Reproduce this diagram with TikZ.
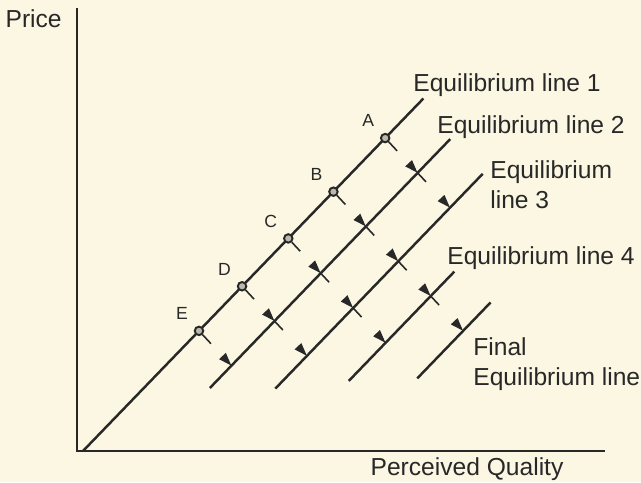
\documentclass[tikz,border=0pt]{standalone}
\usepackage{fontspec}
\setmainfont{Liberation Sans}
\usetikzlibrary{arrows.meta}
\definecolor{paper}{RGB}{251,247,226}
\definecolor{ink}{RGB}{40,40,40}

\begin{document}
\begin{tikzpicture}[
    axis/.style={line width=1.5pt, ink},
    eqline/.style={line width=1.4pt, ink},
    move/.style={line width=0.9pt, ink, dash pattern=on 7pt off 40pt,
        -{Triangle[length=7.5pt,width=5pt]}},
    pt/.style={circle, draw=ink, line width=1.1pt, fill=paper!70!ink, inner sep=0pt, minimum size=0.17cm},
    lbl/.style={text=ink, font=\fontsize{10}{11}\selectfont},
    txt/.style={text=ink, inner sep=0pt, font=\fontsize{14}{17}\selectfont}
]
    \fill[paper] (-1.54,-0.62) rectangle (11.28,9.02);
    \useasboundingbox (-1.54,-0.62) rectangle (11.28,9.02);

    % axes
    \draw[axis] (0,8.86) -- (0,0) -- (10.56,0);
    \node[txt, anchor=base east] at (-0.3,8.46) {Price};
    \node[txt, anchor=base] at (7.8,-0.48) {Perceived Quality};

    % equilibrium lines, drawn along the 46 degree direction
    \begin{scope}[shift={(0.12,0)}, rotate=46]
        \draw[eqline] (0,0) -- (9.8,0);
        \draw[eqline] (2.67,-0.95) -- (9.59,-0.95);
        \draw[eqline] (3.57,-1.9) -- (9.54,-1.9);
        \draw[eqline] (4.7,-2.85) -- (7.74,-2.85);
        \draw[eqline] (5.69,-3.8) -- (7.8,-3.8);

        \foreach \p/\s/\n in {A/8.7/2, B/7.21/4, C/5.91/3, D/4.58/2, E/3.34/1} {
            \node[pt, label={[lbl, label distance=1pt]135:\p}] (\p) at (\s,0) {};
            \foreach \k in {1,...,\n}
                \coordinate (\p\k) at (\s-0.05*\k, -0.95*\k);
        }
    \end{scope}

    % moves towards the final line
    \draw[move] (A) -- (A1);
    \draw[move] (A1) -- (A2);
    \draw[move] (B) -- (B1);
    \draw[move] (B1) -- (B2);
    \draw[move] (B2) -- (B3);
    \draw[move] (B3) -- (B4);
    \draw[move] (C) -- (C1);
    \draw[move] (C1) -- (C2);
    \draw[move] (C2) -- (C3);
    \draw[move] (D) -- (D1);
    \draw[move] (D1) -- (D2);
    \draw[move] (E) -- (E1);

    \node[txt, anchor=base west] at (6.72,7.18) {Equilibrium line 1};
    \node[txt, anchor=base west] at (7.2,6.34) {Equilibrium line 2};
    \node[txt, anchor=north west, align=left] at (8.26,5.82) {Equilibrium\\line 3};
    \node[txt, anchor=base west] at (7.4,3.72) {Equilibrium line 4};
    \node[txt, anchor=north west, align=left] at (7.92,2.28) {Final\\Equilibrium line};
\end{tikzpicture}
\end{document}
